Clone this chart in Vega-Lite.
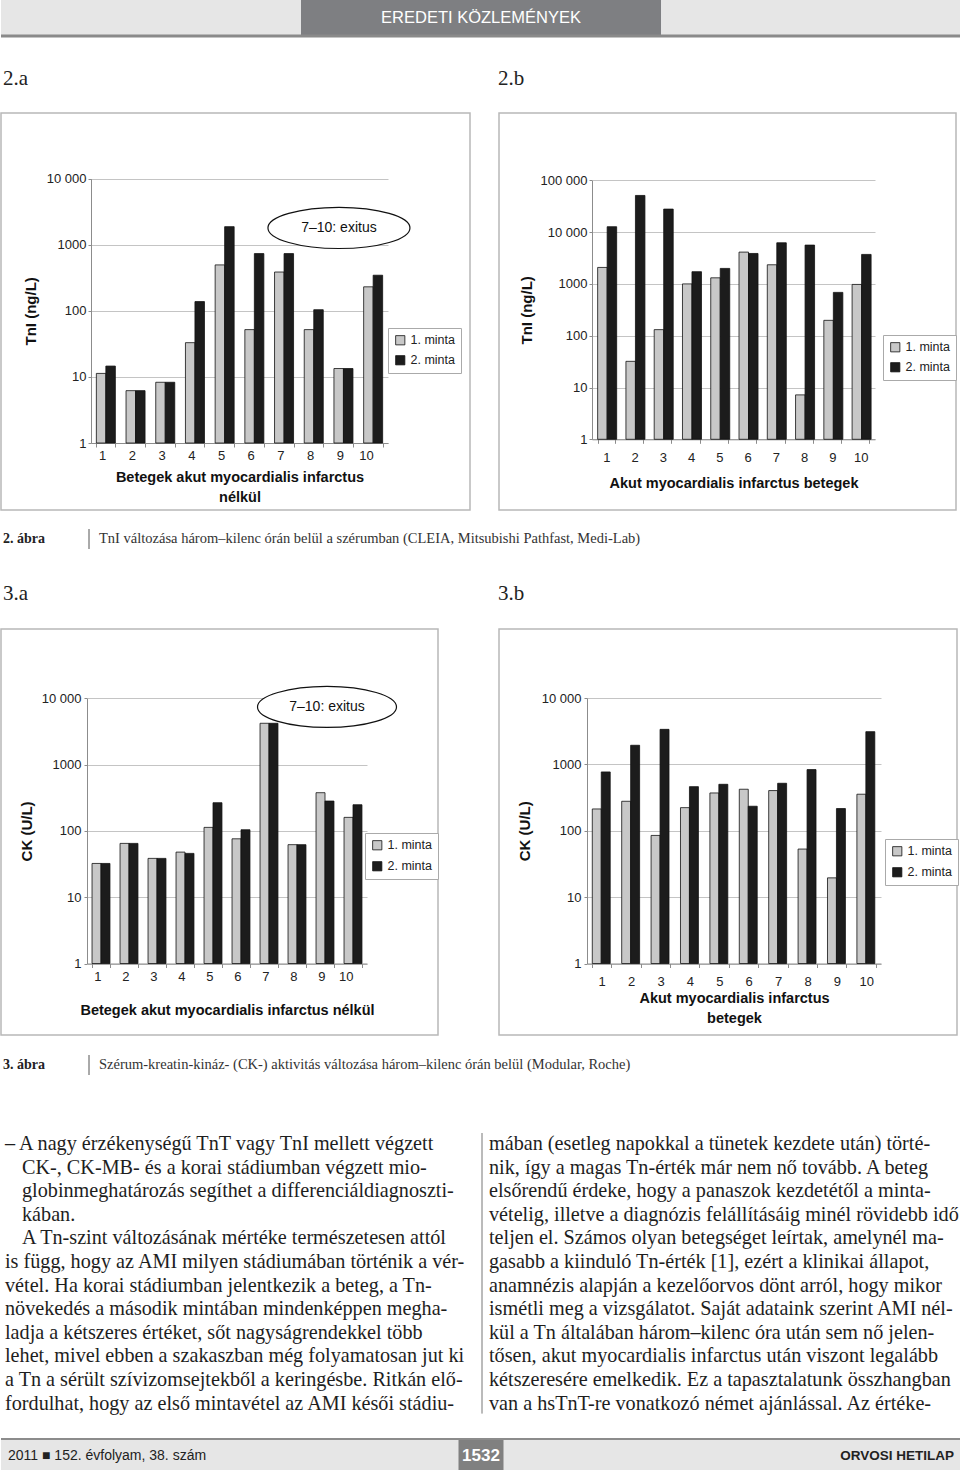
{
  "$schema": "https://vega.github.io/schema/vega-lite/v6.json",
  "padding": 0,
  "background": "white",
  "spacing": 0,
  "resolve": {"scale": {"color": "independent"}, "legend": {"color": "independent"}},
  "config": {
    "view": {"stroke": null},
    "font": "Liberation Sans",
    "axis": {
      "labelFont": "Liberation Sans", "labelFontSize": 13, "labelColor": "#222",
      "titleFont": "Liberation Sans", "titleFontWeight": "bold", "titleColor": "#111",
      "domainColor": "#8c8c8c", "tickColor": "#8c8c8c", "gridColor": "#c4c4c4",
      "labelOverlap": false, "labelBound": false, "labelFlush": false
    },
    "legend": {"labelFont": "Liberation Sans", "labelFontSize": 12.5, "labelColor": "#222"}
  },
  "datasets": {
    "d2a": [
      {"beteg": 1, "minta": "1. minta", "ertek": 11.3}, {"beteg": 1, "minta": "2. minta", "ertek": 14.6},
      {"beteg": 2, "minta": "1. minta", "ertek": 6.2}, {"beteg": 2, "minta": "2. minta", "ertek": 6.2},
      {"beteg": 3, "minta": "1. minta", "ertek": 8.3}, {"beteg": 3, "minta": "2. minta", "ertek": 8.3},
      {"beteg": 4, "minta": "1. minta", "ertek": 33}, {"beteg": 4, "minta": "2. minta", "ertek": 138},
      {"beteg": 5, "minta": "1. minta", "ertek": 496}, {"beteg": 5, "minta": "2. minta", "ertek": 1880},
      {"beteg": 6, "minta": "1. minta", "ertek": 52}, {"beteg": 6, "minta": "2. minta", "ertek": 735},
      {"beteg": 7, "minta": "1. minta", "ertek": 387}, {"beteg": 7, "minta": "2. minta", "ertek": 735},
      {"beteg": 8, "minta": "1. minta", "ertek": 52}, {"beteg": 8, "minta": "2. minta", "ertek": 104},
      {"beteg": 9, "minta": "1. minta", "ertek": 13.4}, {"beteg": 9, "minta": "2. minta", "ertek": 13.4},
      {"beteg": 10, "minta": "1. minta", "ertek": 231}, {"beteg": 10, "minta": "2. minta", "ertek": 346}
    ],
    "d2b": [
      {"beteg": 1, "minta": "1. minta", "ertek": 2080}, {"beteg": 1, "minta": "2. minta", "ertek": 12700},
      {"beteg": 2, "minta": "1. minta", "ertek": 32}, {"beteg": 2, "minta": "2. minta", "ertek": 51000},
      {"beteg": 3, "minta": "1. minta", "ertek": 131}, {"beteg": 3, "minta": "2. minta", "ertek": 27800},
      {"beteg": 4, "minta": "1. minta", "ertek": 1000}, {"beteg": 4, "minta": "2. minta", "ertek": 1720},
      {"beteg": 5, "minta": "1. minta", "ertek": 1310}, {"beteg": 5, "minta": "2. minta", "ertek": 1990},
      {"beteg": 6, "minta": "1. minta", "ertek": 4110}, {"beteg": 6, "minta": "2. minta", "ertek": 3870},
      {"beteg": 7, "minta": "1. minta", "ertek": 2340}, {"beteg": 7, "minta": "2. minta", "ertek": 6220},
      {"beteg": 8, "minta": "1. minta", "ertek": 7.2}, {"beteg": 8, "minta": "2. minta", "ertek": 5610},
      {"beteg": 9, "minta": "1. minta", "ertek": 198}, {"beteg": 9, "minta": "2. minta", "ertek": 686},
      {"beteg": 10, "minta": "1. minta", "ertek": 977}, {"beteg": 10, "minta": "2. minta", "ertek": 3710}
    ],
    "d3a": [
      {"beteg": 1, "minta": "1. minta", "ertek": 32.3}, {"beteg": 1, "minta": "2. minta", "ertek": 32.3},
      {"beteg": 2, "minta": "1. minta", "ertek": 64.8}, {"beteg": 2, "minta": "2. minta", "ertek": 64.8},
      {"beteg": 3, "minta": "1. minta", "ertek": 38.5}, {"beteg": 3, "minta": "2. minta", "ertek": 38.5},
      {"beteg": 4, "minta": "1. minta", "ertek": 47.9}, {"beteg": 4, "minta": "2. minta", "ertek": 45.8},
      {"beteg": 5, "minta": "1. minta", "ertek": 113}, {"beteg": 5, "minta": "2. minta", "ertek": 266},
      {"beteg": 6, "minta": "1. minta", "ertek": 76}, {"beteg": 6, "minta": "2. minta", "ertek": 104},
      {"beteg": 7, "minta": "1. minta", "ertek": 4200}, {"beteg": 7, "minta": "2. minta", "ertek": 4200},
      {"beteg": 8, "minta": "1. minta", "ertek": 62}, {"beteg": 8, "minta": "2. minta", "ertek": 62},
      {"beteg": 9, "minta": "1. minta", "ertek": 377}, {"beteg": 9, "minta": "2. minta", "ertek": 282},
      {"beteg": 10, "minta": "1. minta", "ertek": 160}, {"beteg": 10, "minta": "2. minta", "ertek": 248}
    ],
    "d3b": [
      {"beteg": 1, "minta": "1. minta", "ertek": 213}, {"beteg": 1, "minta": "2. minta", "ertek": 769},
      {"beteg": 2, "minta": "1. minta", "ertek": 278}, {"beteg": 2, "minta": "2. minta", "ertek": 1940},
      {"beteg": 3, "minta": "1. minta", "ertek": 85}, {"beteg": 3, "minta": "2. minta", "ertek": 3370},
      {"beteg": 4, "minta": "1. minta", "ertek": 223}, {"beteg": 4, "minta": "2. minta", "ertek": 462},
      {"beteg": 5, "minta": "1. minta", "ertek": 371}, {"beteg": 5, "minta": "2. minta", "ertek": 501},
      {"beteg": 6, "minta": "1. minta", "ertek": 422}, {"beteg": 6, "minta": "2. minta", "ertek": 234},
      {"beteg": 7, "minta": "1. minta", "ertek": 403}, {"beteg": 7, "minta": "2. minta", "ertek": 519},
      {"beteg": 8, "minta": "1. minta", "ertek": 53}, {"beteg": 8, "minta": "2. minta", "ertek": 834},
      {"beteg": 9, "minta": "1. minta", "ertek": 19.5}, {"beteg": 9, "minta": "2. minta", "ertek": 216},
      {"beteg": 10, "minta": "1. minta", "ertek": 355}, {"beteg": 10, "minta": "2. minta", "ertek": 3110}
    ],
    "body": [
      {"col": "L", "line": 1, "indent": 0, "text": "– A nagy érzékenységű TnT vagy TnI mellett végzett"},
      {"col": "L", "line": 2, "indent": 1, "text": "CK-, CK-MB- és a korai stádiumban végzett mio-"},
      {"col": "L", "line": 3, "indent": 1, "text": "globinmeghatározás segíthet a differenciáldiagnoszti-"},
      {"col": "L", "line": 4, "indent": 1, "text": "kában."},
      {"col": "L", "line": 5, "indent": 1, "text": "A Tn-szint változásának mértéke természetesen attól"},
      {"col": "L", "line": 6, "indent": 0, "text": "is függ, hogy az AMI milyen stádiumában történik a vér-"},
      {"col": "L", "line": 7, "indent": 0, "text": "vétel. Ha korai stádiumban jelentkezik a beteg, a Tn-"},
      {"col": "L", "line": 8, "indent": 0, "text": "növekedés a második mintában mindenképpen megha-"},
      {"col": "L", "line": 9, "indent": 0, "text": "ladja a kétszeres értéket, sőt nagyságrendekkel több"},
      {"col": "L", "line": 10, "indent": 0, "text": "lehet, mivel ebben a szakaszban még folyamatosan jut ki"},
      {"col": "L", "line": 11, "indent": 0, "text": "a Tn a sérült szívizomsejtekből a keringésbe. Ritkán elő-"},
      {"col": "L", "line": 12, "indent": 0, "text": "fordulhat, hogy az első mintavétel az AMI késői stádiu-"},
      {"col": "R", "line": 1, "indent": 0, "text": "mában (esetleg napokkal a tünetek kezdete után) törté-"},
      {"col": "R", "line": 2, "indent": 0, "text": "nik, így a magas Tn-érték már nem nő tovább. A beteg"},
      {"col": "R", "line": 3, "indent": 0, "text": "elsőrendű érdeke, hogy a panaszok kezdetétől a minta-"},
      {"col": "R", "line": 4, "indent": 0, "text": "vételig, illetve a diagnózis felállításáig minél rövidebb idő"},
      {"col": "R", "line": 5, "indent": 0, "text": "teljen el. Számos olyan betegséget leírtak, amelynél ma-"},
      {"col": "R", "line": 6, "indent": 0, "text": "gasabb a kiinduló Tn-érték [1], ezért a klinikai állapot,"},
      {"col": "R", "line": 7, "indent": 0, "text": "anamnézis alapján a kezelőorvos dönt arról, hogy mikor"},
      {"col": "R", "line": 8, "indent": 0, "text": "ismétli meg a vizsgálatot. Saját adataink szerint AMI nél-"},
      {"col": "R", "line": 9, "indent": 0, "text": "kül a Tn általában három–kilenc óra után sem nő jelen-"},
      {"col": "R", "line": 10, "indent": 0, "text": "tősen, akut myocardialis infarctus után viszont legalább"},
      {"col": "R", "line": 11, "indent": 0, "text": "kétszeresére emelkedik. Ez a tapasztalatunk összhangban"},
      {"col": "R", "line": 12, "indent": 0, "text": "van a hsTnT-re vonatkozó német ajánlással. Az értéke-"}
    ]
  },
  "vconcat": [
    {
      "width": 960, "height": 67,
      "data": {"values": [{"rovat": "EREDETI KÖZLEMÉNYEK"}]},
      "layer": [
        {"mark": {"type": "rule", "color": "#e6e6e6", "strokeWidth": 36, "clip": true},
         "encoding": {"y": {"datum": 0.5, "type": "quantitative", "scale": {"domain": [0, 1], "range": [36, 0]}, "axis": null}}},
        {"mark": {"type": "bar", "color": "#7e7f82"},
         "encoding": {
           "x": {"field": "rovat", "type": "nominal", "scale": {"paddingInner": 0, "paddingOuter": 0.8333}, "axis": null},
           "y": {"datum": 0, "type": "quantitative"},
           "y2": {"datum": 1}}},
        {"mark": {"type": "text", "color": "white", "fontSize": 16.5, "letterSpacing": 3, "font": "Liberation Sans Narrow, Liberation Sans", "baseline": "middle"},
         "encoding": {
           "x": {"field": "rovat", "type": "nominal"},
           "y": {"datum": 0.5, "type": "quantitative"},
           "text": {"field": "rovat"}}},
        {"mark": {"type": "rule", "color": "#8a8a8a", "strokeWidth": 3, "clip": true},
         "encoding": {"y": {"datum": 0, "type": "quantitative"}}}
      ]
    },
    {
      "bounds": "flush",
      "spacing": 29,
      "resolve": {"scale": {"color": "independent"}, "legend": {"color": "independent"}},
      "hconcat": [
        {
          "width": 469, "height": 397,
          "view": {"stroke": "#b8b8b8", "strokeWidth": 1.5},
          "title": {"text": "2.a", "anchor": "start", "frame": "group", "offset": 7, "baseline": "alphabetic", "dx": 2, "font": "Liberation Serif", "fontSize": 21, "fontWeight": "normal", "color": "#222"},
          "layer": [
            {"data": {"values": [{"beteg": 9, "ertek": 1800, "megj": "7–10: exitus"}]},
             "mark": {"type": "point", "shape": "M -1 0 C -1 -0.16 -0.5523 -0.29 0 -0.29 C 0.5523 -0.29 1 -0.16 1 0 C 1 0.16 0.5523 0.29 0 0.29 C -0.5523 0.29 -1 0.16 -1 0 Z", "size": 20164, "filled": true, "fill": "white", "stroke": "#111", "strokeWidth": 1.2, "opacity": 1, "xOffset": -4.5},
             "encoding": {"x": {"field": "beteg", "type": "ordinal"}, "y": {"field": "ertek", "type": "quantitative"}}},
            {"data": {"name": "d2a"},
             "mark": {"type": "bar", "stroke": "#111", "strokeWidth": 0.8},
             "encoding": {
               "x": {"field": "beteg", "type": "ordinal", "scale": {"range": [90, 387], "paddingInner": 0.36, "paddingOuter": 0.18},
                     "axis": {"orient": "bottom", "offset": -67, "labelAngle": 0, "tickBand": "extent", "tickSize": 4, "labelPadding": 8,
                              "title": ["Betegek akut myocardialis infarctus", "nélkül"], "titleFontSize": 14.5, "titleY": 27, "titleBaseline": "top", "titleLineHeight": 20}},
               "xOffset": {"field": "minta", "type": "nominal"},
               "y": {"field": "ertek", "type": "quantitative", "scale": {"type": "log", "domain": [1, 10000], "range": [330, 65.7], "nice": false},
                     "axis": {"orient": "left", "offset": -90, "values": [1, 10, 100, 1000, 10000], "grid": true, "tickSize": 3, "labelPadding": 2,
                              "labelExpr": "datum.value >= 100000 ? '100 000' : datum.value >= 10000 ? '10 000' : format(datum.value, 'd')",
                              "title": "TnI (ng/L)", "titleFontSize": 15, "titleX": -61, "titleBaseline": "middle"}},
               "y2": {"datum": 1},
               "color": {"field": "minta", "type": "nominal", "scale": {"domain": ["1. minta", "2. minta"], "range": ["#c8c8c8", "#1c1c1c"]},
                         "legend": {"orient": "none", "legendX": 387, "legendY": 215, "title": null, "symbolType": "square", "symbolSize": 85, "symbolStrokeColor": "#111", "symbolStrokeWidth": 0.8, "strokeColor": "#aaa", "fillColor": "white", "padding": 6, "rowPadding": 7, "labelOffset": 4}}
             }},
            {"data": {"values": [{"beteg": 9, "ertek": 1800, "megj": "7–10: exitus"}]},
             "mark": {"type": "text", "fontSize": 14, "color": "#111", "xOffset": -4.5, "baseline": "middle"},
             "encoding": {"x": {"field": "beteg", "type": "ordinal"}, "y": {"field": "ertek", "type": "quantitative"}, "text": {"field": "megj"}}}
          ]
        },
        {
          "width": 457, "height": 397,
          "view": {"stroke": "#b8b8b8", "strokeWidth": 1.5},
          "title": {"text": "2.b", "anchor": "start", "frame": "group", "offset": 7, "baseline": "alphabetic", "dx": -1, "font": "Liberation Serif", "fontSize": 21, "fontWeight": "normal", "color": "#222"},
          "data": {"name": "d2b"},
          "mark": {"type": "bar", "stroke": "#111", "strokeWidth": 0.8},
          "encoding": {
            "x": {"field": "beteg", "type": "ordinal", "scale": {"range": [93, 376], "paddingInner": 0.39, "paddingOuter": 0.2},
                  "axis": {"orient": "bottom", "offset": -70.7, "labelAngle": 0, "tickBand": "extent", "tickSize": 4, "labelPadding": 8,
                           "title": "Akut myocardialis infarctus betegek", "titleFontSize": 14.5, "titleY": 37, "titleBaseline": "top"}},
            "xOffset": {"field": "minta", "type": "nominal"},
            "y": {"field": "ertek", "type": "quantitative", "scale": {"type": "log", "domain": [1, 100000], "range": [326.3, 67.3], "nice": false},
                  "axis": {"orient": "left", "offset": -93, "values": [1, 10, 100, 1000, 10000, 100000], "grid": true, "tickSize": 3, "labelPadding": 2,
                           "labelExpr": "datum.value >= 100000 ? '100 000' : datum.value >= 10000 ? '10 000' : format(datum.value, 'd')",
                           "title": "TnI (ng/L)", "titleFontSize": 15, "titleX": -66, "titleBaseline": "middle"}},
            "y2": {"datum": 1},
            "color": {"field": "minta", "type": "nominal", "scale": {"domain": ["1. minta", "2. minta"], "range": ["#c8c8c8", "#1c1c1c"]},
                      "legend": {"orient": "none", "legendX": 384, "legendY": 222, "title": null, "symbolType": "square", "symbolSize": 85, "symbolStrokeColor": "#111", "symbolStrokeWidth": 0.8, "strokeColor": "#aaa", "fillColor": "white", "padding": 6, "rowPadding": 7, "labelOffset": 4}}
          }
        }
      ]
    },
    {
      "width": 960, "height": 71,
      "layer": [
        {"data": {"values": [{"resz": "label", "szoveg": "2. ábra"}]},
         "mark": {"type": "text", "align": "left", "baseline": "middle", "font": "Liberation Serif", "fontSize": 14, "fontWeight": "bold", "color": "#222"},
         "encoding": {
           "x": {"field": "resz", "type": "nominal", "scale": {"type": "point", "domain": ["label", "text"], "range": [2, 98], "padding": 0}, "axis": null},
           "y": {"datum": "c", "type": "nominal", "scale": {"type": "point", "domain": ["c"], "range": [0, 56]}, "axis": null},
           "text": {"field": "szoveg"}}},
        {"data": {"values": [{"resz": "text", "szoveg": "TnI változása három–kilenc órán belül a szérumban (CLEIA, Mitsubishi Pathfast, Medi-Lab)"}]},
         "mark": {"type": "text", "align": "left", "baseline": "middle", "font": "Liberation Serif", "fontSize": 14.5, "color": "#333"},
         "encoding": {
           "x": {"field": "resz", "type": "nominal"},
           "y": {"datum": "c", "type": "nominal"},
           "text": {"field": "szoveg"}}},
        {"data": {"values": [{"resz": "text"}]},
         "mark": {"type": "rule", "color": "#555", "strokeWidth": 1, "xOffset": -10, "yOffset": -10, "y2Offset": 10},
         "encoding": {
           "x": {"field": "resz", "type": "nominal"},
           "y": {"datum": "c", "type": "nominal"},
           "y2": {"datum": "c"}}}
      ]
    },
    {
      "bounds": "flush",
      "spacing": 61,
      "resolve": {"scale": {"color": "independent"}, "legend": {"color": "independent"}},
      "hconcat": [
        {
          "width": 437, "height": 406,
          "view": {"stroke": "#b8b8b8", "strokeWidth": 1.5},
          "title": {"text": "3.a", "anchor": "start", "frame": "group", "offset": 8, "baseline": "alphabetic", "dx": 2, "font": "Liberation Serif", "fontSize": 21, "fontWeight": "normal", "color": "#222"},
          "layer": [
            {"data": {"values": [{"beteg": 9, "ertek": 7400, "megj": "7–10: exitus"}]},
             "mark": {"type": "point", "shape": "M -1 0 C -1 -0.16 -0.5523 -0.295 0 -0.295 C 0.5523 -0.295 1 -0.16 1 0 C 1 0.16 0.5523 0.295 0 0.295 C -0.5523 0.295 -1 0.16 -1 0 Z", "size": 19321, "filled": true, "fill": "white", "stroke": "#111", "strokeWidth": 1.2, "opacity": 1, "xOffset": 2},
             "encoding": {"x": {"field": "beteg", "type": "ordinal"}, "y": {"field": "ertek", "type": "quantitative"}}},
            {"data": {"name": "d3a"},
             "mark": {"type": "bar", "stroke": "#111", "strokeWidth": 0.8},
             "encoding": {
               "x": {"field": "beteg", "type": "ordinal", "scale": {"range": [86, 366], "paddingInner": 0.36, "paddingOuter": 0.18},
                     "axis": {"orient": "bottom", "offset": -71.5, "labelAngle": 0, "tickBand": "extent", "tickSize": 4, "labelPadding": 9,
                              "title": "Betegek akut myocardialis infarctus nélkül", "titleFontSize": 14.5, "titleY": 40, "titleBaseline": "top"}},
               "xOffset": {"field": "minta", "type": "nominal"},
               "y": {"field": "ertek", "type": "quantitative", "scale": {"type": "log", "domain": [1, 10000], "range": [334.5, 69.3], "nice": false},
                     "axis": {"orient": "left", "offset": -86, "values": [1, 10, 100, 1000, 10000], "grid": true, "tickSize": 3, "labelPadding": 3,
                              "labelExpr": "datum.value >= 100000 ? '100 000' : datum.value >= 10000 ? '10 000' : format(datum.value, 'd')",
                              "title": "CK (U/L)", "titleFontSize": 15, "titleX": -61, "titleBaseline": "middle"}},
               "y2": {"datum": 1},
               "color": {"field": "minta", "type": "nominal", "scale": {"domain": ["1. minta", "2. minta"], "range": ["#c8c8c8", "#1c1c1c"]},
                         "legend": {"orient": "none", "legendX": 364, "legendY": 204, "title": null, "symbolType": "square", "symbolSize": 85, "symbolStrokeColor": "#111", "symbolStrokeWidth": 0.8, "strokeColor": "#aaa", "fillColor": "white", "padding": 6, "rowPadding": 8, "labelOffset": 4}}
             }},
            {"data": {"values": [{"beteg": 9, "ertek": 7400, "megj": "7–10: exitus"}]},
             "mark": {"type": "text", "fontSize": 14, "color": "#111", "xOffset": 2, "baseline": "middle"},
             "encoding": {"x": {"field": "beteg", "type": "ordinal"}, "y": {"field": "ertek", "type": "quantitative"}, "text": {"field": "megj"}}}
          ]
        },
        {
          "width": 458, "height": 406,
          "view": {"stroke": "#b8b8b8", "strokeWidth": 1.5},
          "title": {"text": "3.b", "anchor": "start", "frame": "group", "offset": 8, "baseline": "alphabetic", "dx": -1, "font": "Liberation Serif", "fontSize": 21, "fontWeight": "normal", "color": "#222"},
          "data": {"name": "d3b"},
          "mark": {"type": "bar", "stroke": "#111", "strokeWidth": 0.8},
          "encoding": {
            "x": {"field": "beteg", "type": "ordinal", "scale": {"range": [88, 382], "paddingInner": 0.36, "paddingOuter": 0.18},
                  "axis": {"orient": "bottom", "offset": -71.5, "labelAngle": 0, "tickBand": "extent", "tickSize": 4, "labelPadding": 8,
                           "title": ["Akut myocardialis infarctus", "betegek"], "titleFontSize": 14.5, "titleY": 28, "titleBaseline": "top", "titleLineHeight": 20}},
            "xOffset": {"field": "minta", "type": "nominal"},
            "y": {"field": "ertek", "type": "quantitative", "scale": {"type": "log", "domain": [1, 10000], "range": [334.5, 69], "nice": false},
                  "axis": {"orient": "left", "offset": -88, "values": [1, 10, 100, 1000, 10000], "grid": true, "tickSize": 3, "labelPadding": 3,
                           "labelExpr": "datum.value >= 100000 ? '100 000' : datum.value >= 10000 ? '10 000' : format(datum.value, 'd')",
                           "title": "CK (U/L)", "titleFontSize": 15, "titleX": -63, "titleBaseline": "middle"}},
            "y2": {"datum": 1},
            "color": {"field": "minta", "type": "nominal", "scale": {"domain": ["1. minta", "2. minta"], "range": ["#c8c8c8", "#1c1c1c"]},
                      "legend": {"orient": "none", "legendX": 386, "legendY": 210, "title": null, "symbolType": "square", "symbolSize": 85, "symbolStrokeColor": "#111", "symbolStrokeWidth": 0.8, "strokeColor": "#aaa", "fillColor": "white", "padding": 6, "rowPadding": 8, "labelOffset": 4}}
          }
        }
      ]
    },
    {
      "width": 960, "height": 96,
      "layer": [
        {"data": {"values": [{"resz": "label", "szoveg": "3. ábra"}]},
         "mark": {"type": "text", "align": "left", "baseline": "middle", "font": "Liberation Serif", "fontSize": 14, "fontWeight": "bold", "color": "#222"},
         "encoding": {
           "x": {"field": "resz", "type": "nominal", "scale": {"type": "point", "domain": ["label", "text"], "range": [2, 98], "padding": 0}, "axis": null},
           "y": {"datum": "c", "type": "nominal", "scale": {"type": "point", "domain": ["c"], "range": [0, 58]}, "axis": null},
           "text": {"field": "szoveg"}}},
        {"data": {"values": [{"resz": "text", "szoveg": "Szérum-kreatin-kináz- (CK-) aktivitás változása három–kilenc órán belül (Modular, Roche)"}]},
         "mark": {"type": "text", "align": "left", "baseline": "middle", "font": "Liberation Serif", "fontSize": 14.5, "color": "#333"},
         "encoding": {
           "x": {"field": "resz", "type": "nominal"},
           "y": {"datum": "c", "type": "nominal"},
           "text": {"field": "szoveg"}}},
        {"data": {"values": [{"resz": "text"}]},
         "mark": {"type": "rule", "color": "#555", "strokeWidth": 1, "xOffset": -10, "yOffset": -10, "y2Offset": 10},
         "encoding": {
           "x": {"field": "resz", "type": "nominal"},
           "y": {"datum": "c", "type": "nominal"},
           "y2": {"datum": "c"}}}
      ]
    },
    {
      "width": 960, "height": 305,
      "data": {"name": "body"},
      "layer": [
        {"mark": {"type": "text", "align": "left", "baseline": "middle", "font": "Liberation Serif", "fontSize": 20.2, "color": "#1e1e1e"},
         "encoding": {
           "x": {"field": "col", "type": "nominal", "scale": {"type": "point", "domain": ["L", "R"], "range": [4, 488], "padding": 0}, "axis": null},
           "xOffset": {"field": "indent", "type": "quantitative", "scale": {"domain": [0, 1], "range": [0, 17]}},
           "y": {"field": "line", "type": "ordinal", "scale": {"type": "point", "domain": [1, 2, 3, 4, 5, 6, 7, 8, 9, 10, 11, 12], "range": [11, 270.6], "padding": 0}, "axis": null},
           "text": {"field": "text"}}},
        {"transform": [{"filter": "datum.col === 'R' && datum.line === 1"}],
         "mark": {"type": "rule", "color": "#777", "strokeWidth": 1, "xOffset": -7, "yOffset": -11, "y2Offset": 10},
         "encoding": {
           "x": {"field": "col", "type": "nominal"},
           "y": {"datum": 1, "type": "ordinal"},
           "y2": {"datum": 12}}}
      ]
    },
    {
      "width": 960, "height": 35,
      "view": {"fill": "#e6e6e6", "stroke": null},
      "data": {"values": [
        {"hely": "l", "szoveg": "2011 ■ 152. évfolyam, 38. szám"},
        {"hely": "m", "szoveg": "1532"},
        {"hely": "r", "szoveg": "ORVOSI HETILAP"}
      ]},
      "layer": [
        {"transform": [{"filter": "datum.hely === 'm'"}],
         "mark": {"type": "bar", "color": "#808080", "width": 45},
         "encoding": {
           "x": {"field": "hely", "type": "nominal", "scale": {"type": "point", "domain": ["l", "m", "r"], "range": [7, 953], "padding": 0}, "axis": null},
           "y": {"datum": 0, "type": "quantitative", "scale": {"domain": [0, 1]}, "axis": null},
           "y2": {"datum": 1}}},
        {"transform": [{"filter": "datum.hely === 'm'"}],
         "mark": {"type": "rule", "color": "#8c8c8c", "strokeWidth": 2, "yOffset": 1, "clip": true},
         "encoding": {"y": {"datum": 1, "type": "quantitative"}}},
        {"transform": [{"filter": "datum.hely === 'l'"}],
         "mark": {"type": "text", "align": "left", "baseline": "middle", "font": "Liberation Sans Narrow, Liberation Sans", "fontSize": 14, "color": "#222"},
         "encoding": {"x": {"field": "hely", "type": "nominal"}, "y": {"datum": 0.5, "type": "quantitative"}, "text": {"field": "szoveg"}}},
        {"transform": [{"filter": "datum.hely === 'm'"}],
         "mark": {"type": "text", "align": "center", "baseline": "middle", "font": "Liberation Sans Narrow, Liberation Sans", "fontSize": 17, "fontWeight": "bold", "color": "white"},
         "encoding": {"x": {"field": "hely", "type": "nominal"}, "y": {"datum": 0.5, "type": "quantitative"}, "text": {"field": "szoveg"}}},
        {"transform": [{"filter": "datum.hely === 'r'"}],
         "mark": {"type": "text", "align": "right", "baseline": "middle", "font": "Liberation Sans", "fontSize": 13.5, "fontWeight": "bold", "letterSpacing": 1, "color": "#222"},
         "encoding": {"x": {"field": "hely", "type": "nominal"}, "y": {"datum": 0.5, "type": "quantitative"}, "text": {"field": "szoveg"}}}
      ]
    }
  ]
}
